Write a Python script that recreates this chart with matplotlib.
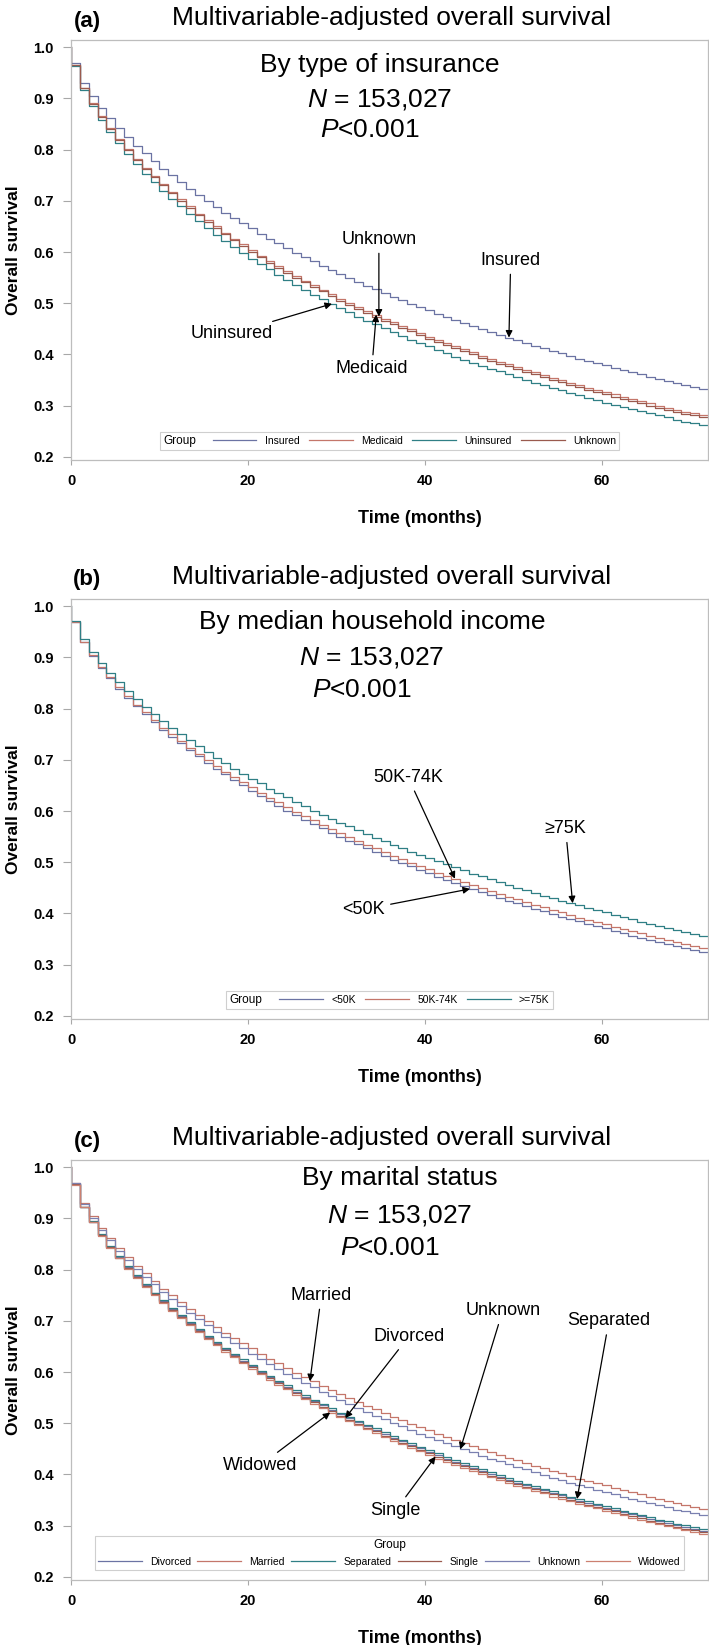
import matplotlib
matplotlib.use("Agg")
import matplotlib.pyplot as plt
from matplotlib.lines import Line2D
from matplotlib.offsetbox import HPacker

plt.rcParams['font.family'] = ['Liberation Sans', 'DejaVu Sans']
plt.rcParams['mathtext.fontset'] = 'custom'
plt.rcParams['mathtext.rm'] = 'Liberation Sans'
plt.rcParams['mathtext.it'] = 'Liberation Sans:italic'

W, H = 709, 1645
MONTHS = list(range(72))

# ---- (a) insurance ----
INSURED = [.970, .931, .905, .882, .861, .843, .825, .808, .793, .778, .763, .750,
           .737, .724, .712, .700, .688, .677, .667, .656, .646, .636, .626, .617,
           .608, .599, .590, .582, .573, .565, .557, .550, .542, .534, .527, .520,
           .513, .506, .499, .493, .486, .480, .474, .468, .462, .456, .450, .444,
           .439, .433, .428, .422, .417, .412, .407, .402, .397, .392, .388, .383,
           .379, .374, .370, .365, .361, .357, .353, .349, .344, .341, .337, .333]
MEDICAID = [.966, .921, .891, .865, .842, .821, .801, .782, .765, .748, .732, .717,
            .703, .689, .675, .662, .650, .638, .626, .615, .604, .593, .583, .573,
            .563, .553, .544, .535, .526, .518, .509, .501, .493, .485, .478, .470,
            .463, .456, .449, .442, .435, .429, .422, .416, .410, .404, .398, .392,
            .386, .381, .375, .370, .365, .360, .355, .350, .345, .340, .335, .331,
            .326, .322, .317, .313, .309, .305, .300, .296, .292, .288, .285, .281]
UNINSURED = [.964, .917, .885, .858, .834, .812, .791, .771, .753, .736, .720, .704,
             .689, .675, .661, .647, .634, .622, .610, .599, .587, .576, .566, .555,
             .545, .536, .526, .517, .508, .499, .491, .482, .474, .466, .459, .451,
             .444, .436, .429, .422, .416, .409, .403, .396, .390, .384, .378, .372,
             .367, .361, .356, .350, .345, .340, .335, .330, .325, .320, .316, .311,
             .306, .302, .298, .293, .289, .285, .281, .277, .273, .269, .266, .262]
UNKNOWN_INS = [.966, .920, .890, .864, .840, .819, .799, .780, .762, .746, .730, .715,
               .700, .686, .672, .659, .647, .635, .623, .612, .600, .590, .579, .569,
               .560, .550, .541, .531, .523, .514, .505, .497, .489, .481, .474, .466,
               .459, .452, .445, .438, .431, .425, .418, .412, .406, .400, .394, .388,
               .382, .377, .371, .366, .361, .356, .350, .346, .341, .336, .331, .327,
               .322, .317, .313, .309, .305, .300, .296, .292, .288, .284, .281, .277]

# ---- (b) income ----
INC_LT50 = [.970, .930, .903, .879, .859, .839, .821, .805, .789, .774, .759, .745,
            .732, .719, .707, .694, .683, .672, .661, .650, .640, .630, .620, .610,
            .601, .592, .583, .575, .566, .558, .550, .542, .535, .527, .520, .513,
            .505, .499, .492, .485, .479, .472, .466, .460, .454, .448, .442, .436,
            .431, .425, .420, .415, .409, .404, .399, .394, .389, .385, .380, .375,
            .371, .366, .362, .357, .353, .349, .345, .341, .336, .333, .329, .325]
INC_50_74 = [.970, .931, .905, .882, .861, .843, .825, .808, .793, .778, .763, .750,
             .737, .724, .712, .700, .688, .677, .667, .656, .646, .636, .626, .617,
             .608, .599, .590, .582, .573, .565, .557, .550, .542, .534, .527, .520,
             .513, .506, .499, .493, .486, .480, .474, .468, .462, .456, .450, .444,
             .439, .433, .428, .422, .417, .412, .407, .402, .397, .392, .388, .383,
             .379, .374, .370, .365, .361, .357, .353, .349, .344, .341, .337, .333]
INC_GE75 = [.972, .935, .910, .889, .869, .852, .835, .819, .804, .790, .776, .763,
            .750, .738, .727, .715, .704, .694, .683, .673, .663, .654, .644, .635,
            .627, .618, .610, .601, .593, .585, .577, .570, .563, .555, .548, .541,
            .534, .528, .521, .515, .508, .502, .496, .490, .484, .478, .473, .467,
            .461, .456, .450, .445, .440, .435, .430, .425, .420, .416, .411, .406,
            .402, .397, .393, .389, .384, .380, .376, .372, .368, .364, .360, .356]

# ---- (c) marital status ----
DIVORCED = [.967, .923, .893, .868, .845, .825, .805, .787, .770, .754, .738, .723,
            .709, .695, .682, .669, .657, .645, .633, .622, .611, .601, .590, .581,
            .571, .561, .552, .543, .535, .526, .518, .510, .502, .494, .487, .479,
            .472, .465, .458, .451, .444, .438, .431, .425, .419, .413, .407, .401,
            .395, .390, .384, .379, .374, .369, .364, .359, .354, .349, .344, .340,
            .335, .331, .326, .322, .318, .313, .309, .305, .301, .297, .294, .290]
MARRIED = [.970, .931, .905, .882, .861, .843, .825, .808, .793, .778, .763, .750,
           .737, .724, .712, .700, .688, .677, .667, .656, .646, .636, .626, .617,
           .608, .599, .590, .582, .573, .565, .557, .550, .542, .534, .527, .520,
           .513, .506, .499, .493, .486, .480, .474, .468, .462, .456, .450, .444,
           .439, .433, .428, .422, .417, .412, .407, .402, .397, .392, .388, .383,
           .379, .374, .370, .365, .361, .357, .353, .349, .344, .341, .337, .333]
SEPARATED = [.967, .923, .894, .869, .847, .826, .807, .789, .772, .755, .740, .725,
             .711, .697, .684, .671, .659, .647, .636, .625, .614, .603, .593, .583,
             .574, .564, .555, .546, .538, .529, .521, .513, .505, .497, .490, .482,
             .475, .468, .461, .454, .447, .441, .434, .428, .422, .416, .410, .404,
             .399, .393, .388, .382, .377, .372, .367, .362, .357, .352, .348, .343,
             .338, .334, .329, .325, .321, .317, .312, .309, .304, .301, .297, .293]
SINGLE = [.967, .922, .892, .867, .844, .823, .804, .786, .768, .752, .736, .721,
          .707, .693, .680, .667, .655, .643, .631, .620, .609, .598, .588, .578,
          .568, .559, .550, .541, .532, .523, .515, .507, .499, .491, .484, .476,
          .469, .462, .455, .448, .441, .435, .428, .422, .416, .410, .404, .398,
          .393, .387, .381, .376, .371, .366, .361, .356, .351, .346, .341, .337,
          .332, .328, .323, .319, .315, .310, .306, .302, .298, .294, .291, .287]
UNKNOWN_MAR = [.969, .929, .901, .878, .857, .837, .819, .802, .786, .771, .756, .742,
               .729, .715, .703, .691, .679, .668, .657, .646, .636, .626, .616, .606,
               .597, .588, .579, .570, .562, .554, .546, .538, .530, .522, .515, .508,
               .501, .494, .487, .480, .474, .468, .461, .455, .449, .443, .437, .431,
               .426, .420, .415, .410, .404, .399, .394, .389, .384, .380, .375, .370,
               .366, .361, .357, .352, .348, .344, .340, .336, .331, .328, .324, .320]
WIDOWED = [.966, .922, .892, .866, .843, .822, .802, .784, .766, .750, .734, .719,
           .705, .691, .678, .665, .652, .640, .629, .617, .606, .596, .585, .575,
           .566, .556, .547, .538, .529, .521, .512, .504, .496, .488, .481, .473,
           .466, .459, .452, .445, .438, .431, .425, .419, .413, .407, .401, .395,
           .389, .384, .378, .373, .368, .363, .357, .353, .348, .343, .338, .334,
           .329, .324, .320, .316, .312, .307, .303, .299, .295, .291, .288, .284]

C_BLUE, C_RED, C_TEAL, C_BROWN = "#6b73a3", "#c4766a", "#2f7f85", "#9a5a4e"

X_TICKS = [0, 20, 40, 60]
Y_TICKS = [0.2, 0.3, 0.4, 0.5, 0.6, 0.7, 0.8, 0.9, 1.0]


def fx(px):
    return px / W


def fy(py):
    return 1 - py / H


def steps(vals):
    xs = [0] + MONTHS + [MONTHS[-1] + 1]
    ys = [1.0] + vals + [vals[-1]]
    return xs, ys


def draw_panel(fig, top, tag, subtitle, sub_xy, series, notes, title_left,
               colsp):
    ax = fig.add_axes([fx(71), fy(top + 420), fx(708) - fx(71), 420 / H])
    for name, vals, col in series:
        xs, ys = steps(vals)
        ax.step(xs, ys, where="post", color=col, lw=0.9)
    ax.set_xlim(0, 72)
    ax.set_ylim(0.194, 1.014)
    ax.set_xticks(X_TICKS, [str(t) for t in X_TICKS], fontweight="bold")
    ax.set_yticks(Y_TICKS, [f"{v:.1f}" for v in Y_TICKS], fontweight="bold")
    ax.tick_params(axis="x", length=3.8, width=0.8, color="#a8a8a8",
                   labelsize=10.5, pad=6.5)
    ax.tick_params(axis="y", length=5.5, width=0.8, color="#a8a8a8",
                   labelsize=10.5, pad=7)
    for s in ax.spines.values():
        s.set_color("#bdbdbd")
        s.set_linewidth(0.9)
    ax.set_xlabel("Time (months)", fontsize=13, fontweight="bold")
    ax.xaxis.set_label_coords(0.547, -0.12)
    ax.set_ylabel("Overall survival", fontsize=12.5, fontweight="bold")
    ax.yaxis.set_label_coords(-0.079, 0.5)

    # titles and inner text
    fig.text(fx(392), fy(top - 22), "Multivariable-adjusted overall survival",
             ha="center", va="center", fontsize=19)
    fig.text(fx(87), fy(top - 19), tag, ha="center", va="center",
             fontsize=16, fontweight="bold")
    (sx, sy) = sub_xy
    fig.text(fx(sx), fy(top + sy[0]), subtitle, ha="center", va="center",
             fontsize=19)
    fig.text(fx(sx), fy(top + sy[1]), "$N$ = 153,027", ha="center",
             va="center", fontsize=19)
    fig.text(fx(sx - 10), fy(top + sy[2]), "$P$<0.001", ha="center",
             va="center", fontsize=19)

    lookup = {name: vals for name, vals, _ in series}
    for label, target, t, lx, ly in notes:
        vals = lookup[target]
        ax.annotate(label, xy=(t, vals[int(t)]), xytext=(lx, ly),
                    ha="center", va="center", fontsize=13,
                    arrowprops=dict(arrowstyle="-|>", color="black", lw=0.9,
                                    mutation_scale=10, shrinkA=2, shrinkB=0))

    handles = [Line2D([], [], color=col, lw=0.9) for _, _, col in series]
    labels = [name for name, _, _ in series]
    leg = ax.legend(handles, labels, title="Group", ncol=len(series),
                    loc="lower center", bbox_to_anchor=(0.5, 0.012),
                    fontsize=7.5, title_fontsize=8.5, fancybox=False,
                    handlelength=4.2, handletextpad=0.8, columnspacing=colsp,
                    borderpad=0.3, framealpha=1)
    leg.get_frame().set_edgecolor("#cfcfcf")
    leg.get_frame().set_linewidth(0.8)
    if title_left:
        fs = leg._fontsize
        box = HPacker(pad=leg.borderpad * fs, sep=1.6 * fs, align="center",
                      children=[leg._legend_title_box, leg._legend_handle_box])
        box.set_figure(fig)
        box.axes = ax
        box.set_offset(leg._findoffset)
        leg._legend_box = box
    return ax


fig = plt.figure(figsize=(W / 100, H / 100), dpi=100)

draw_panel(fig, 40, "(a)", "By type of insurance", (380, (25, 60, 90)),
           [("Insured", INSURED, C_BLUE), ("Medicaid", MEDICAID, C_RED),
            ("Uninsured", UNINSURED, C_TEAL), ("Unknown", UNKNOWN_INS, C_BROWN)],
           [("Unknown", "Unknown", 34.8, 34.8, 0.625),
            ("Insured", "Insured", 49.5, 49.7, 0.584),
            ("Uninsured", "Uninsured", 29.5, 18.2, 0.441),
            ("Medicaid", "Medicaid", 34.5, 34.0, 0.372)],
           True, 0.9)

draw_panel(fig, 599, "(b)", "By median household income", (372, (23, 59, 91)),
           [("<50K", INC_LT50, C_BLUE), ("50K-74K", INC_50_74, C_RED),
            (">=75K", INC_GE75, C_TEAL)],
           [("50K-74K", "50K-74K", 43.4, 38.1, 0.666),
            ("\u226575K", ">=75K", 56.7, 55.9, 0.566),
            ("<50K", "<50K", 45.1, 33.1, 0.408)],
           True, 0.9)

draw_panel(fig, 1160, "(c)", "By marital status", (400, (18, 55, 88)),
           [("Divorced", DIVORCED, C_BLUE), ("Married", MARRIED, C_RED),
            ("Separated", SEPARATED, C_TEAL), ("Single", SINGLE, C_BROWN),
            ("Unknown", UNKNOWN_MAR, "#7a80b0"), ("Widowed", WIDOWED, "#cc8070")],
           [("Married", "Married", 27.0, 28.3, 0.75),
            ("Divorced", "Divorced", 31.0, 38.2, 0.67),
            ("Unknown", "Unknown", 44.0, 48.8, 0.72),
            ("Separated", "Separated", 57.2, 60.8, 0.70),
            ("Widowed", "Widowed", 29.3, 21.4, 0.418),
            ("Single", "Single", 41.2, 36.7, 0.33)],
           False, 0.6)

fig.savefig("out.png", dpi=100)
